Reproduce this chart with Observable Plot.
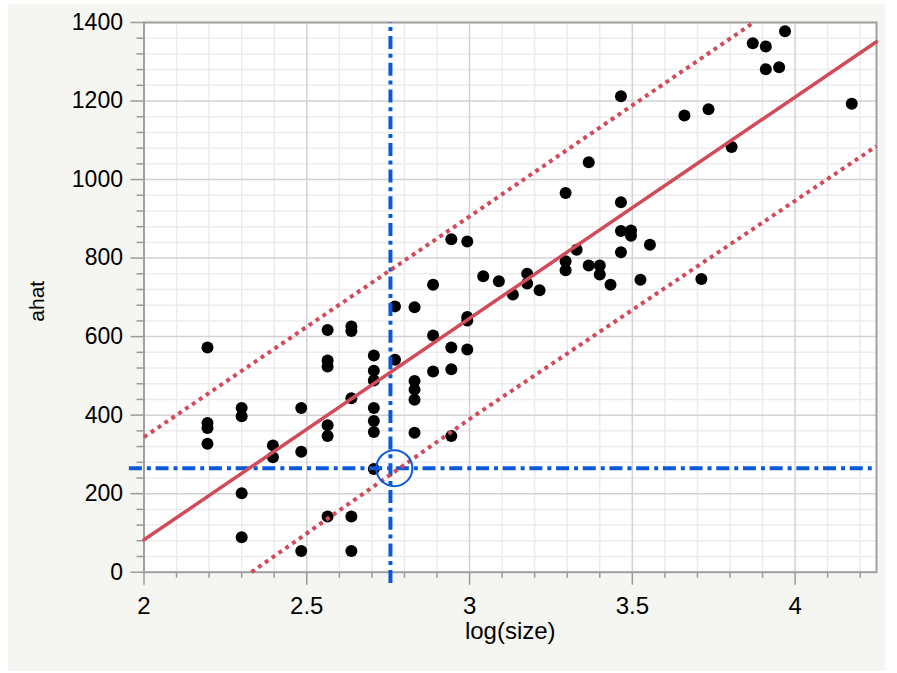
<!DOCTYPE html>
<html>
<head>
<meta charset="utf-8">
<script src="https://cdn.jsdelivr.net/npm/d3@7"></script>
<script src="https://cdn.jsdelivr.net/npm/@observablehq/plot@0.6"></script>
<style>
  body { margin: 0; background: #ffffff; }
  #panel { position: absolute; left: 8px; top: 4px; width: 877px; height: 667px; background: #f5f5f1; }
  #chart { position: absolute; left: 0; top: 0; }
</style>
</head>
<body>
<div id="panel"></div>
<div id="chart"></div>
<script>
// Observed points
const logSize = [
  2.195, 2.195, 2.195, 2.195,
  2.30, 2.30, 2.30, 2.30,
  2.396, 2.396,
  2.483, 2.483, 2.483,
  2.564, 2.564, 2.564, 2.564, 2.564, 2.564,
  2.637, 2.637, 2.637, 2.637, 2.637,
  2.706, 2.706, 2.706, 2.706, 2.706, 2.706, 2.706,
  2.771, 2.771,
  2.831, 2.831, 2.831, 2.831, 2.831,
  2.888, 2.888, 2.888,
  2.944, 2.944, 2.944, 2.944,
  2.993, 2.993, 2.993, 2.993,
  3.042, 3.09, 3.133, 3.177, 3.177, 3.215,
  3.295, 3.295, 3.295, 3.329, 3.366, 3.366, 3.40, 3.40, 3.433,
  3.465, 3.465, 3.465, 3.465, 3.496, 3.496, 3.525, 3.554,
  3.66, 3.712, 3.734, 3.805, 3.87, 3.91, 3.91, 3.951, 3.969, 4.174
];
const ahat = [
  572, 380, 367, 327,
  418, 397, 201, 89,
  323, 293,
  418, 307, 54,
  617, 539, 524, 374, 347, 142,
  626, 614, 443, 142, 54,
  552, 513, 488, 418, 385, 357, 263,
  677, 541,
  675, 487, 465, 439, 355,
  732, 603, 511,
  848, 572, 517, 347,
  842, 650, 641, 567,
  754, 741, 707, 760, 735, 718,
  966, 792, 769, 821, 1044, 781, 781, 758, 732,
  1212, 942, 869, 815, 870, 857, 745, 834,
  1163, 747, 1179, 1083, 1347, 1339, 1281, 1286, 1378, 1193
];

// Fitted line and prediction band
const fitX = [2.0, 4.25];
const fitY = [82.5, 1351];
const upperX = [2.0, 3.0, 3.873];
const upperY = [344, 906, 1400];
const lowerX = [2.33, 3.0, 4.25];
const lowerY = [0, 390, 1085];

// Decision lines
const crossX = [2.757];
const crossYRange = [-29, 1400];
const crossY = [265];
const crossXRange = [1.955, 4.238];
const markerX = [2.769];
const markerY = [265];

// Ticks and titles
const xTicks = [2, 2.5, 3, 3.5, 4];
const yTicks = [0, 200, 400, 600, 800, 1000, 1200, 1400];
const xMinor = d3.range(2.1, 4.25, 0.1).map(v => +v.toFixed(1)).filter(v => !xTicks.includes(v));
const yMinor = d3.range(40, 1400, 40).filter(v => !yTicks.includes(v));
const xTitle = ["log(size)"];
const yTitle = ["ahat"];

const points = logSize.map((x, i) => ({x, y: ahat[i]}));
const fit = fitX.map((x, i) => ({x, y: fitY[i]}));
const upper = upperX.map((x, i) => ({x, y: upperY[i]}));
const lower = lowerX.map((x, i) => ({x, y: lowerY[i]}));

const red = "#d24b5a";
const blue = "#0a5ad8";
const axisGray = "#9a9a9a";

const chart = Plot.plot({
  width: 897,
  height: 673,
  marginLeft: 143.5,
  marginRight: 21,
  marginTop: 22,
  marginBottom: 101.3,
  style: {background: "transparent", fontFamily: "'Liberation Sans', Arial, sans-serif", color: "#000"},
  x: {domain: [2, 4.25]},
  y: {domain: [0, 1400]},
  marks: [
    Plot.frame({fill: "white", stroke: null}),
    Plot.gridX(xMinor, {stroke: "#ececec", strokeOpacity: 1, strokeWidth: 1.5}),
    Plot.gridY(yMinor, {stroke: "#ececec", strokeOpacity: 1, strokeWidth: 1.5}),
    Plot.gridX(xTicks, {stroke: "#d2d2d2", strokeOpacity: 1, strokeWidth: 1.5}),
    Plot.gridY(yTicks, {stroke: "#d2d2d2", strokeOpacity: 1, strokeWidth: 1.5}),
    Plot.axisX(xMinor, {tickSize: 6, text: null, stroke: axisGray, strokeWidth: 1.5, label: null}),
    Plot.axisY(yMinor, {tickSize: 7, text: null, stroke: axisGray, strokeWidth: 1.5, label: null}),
    Plot.axisX(xTicks, {tickSize: 13, tickPadding: 12, fontSize: 24, stroke: axisGray, strokeWidth: 1.5, label: null, tickFormat: d => String(d), fill: "#000"}),
    Plot.axisY(yTicks, {tickSize: 13, tickPadding: 8, fontSize: 23, stroke: axisGray, strokeWidth: 1.5, label: null, tickFormat: d => String(d), fill: "#000"}),
    Plot.frame({stroke: "#a0a0a0", strokeWidth: 2}),
    Plot.dot(points, {x: "x", y: "y", r: 6, fill: "#000", stroke: null}),
    Plot.ruleX(crossX, {y1: crossYRange[0], y2: crossYRange[1], stroke: blue, strokeWidth: 4, strokeDasharray: "13,5,4,4.7"}),
    Plot.ruleY(crossY, {x1: crossXRange[0], x2: crossXRange[1], stroke: blue, strokeWidth: 4, strokeDasharray: "13,5,4,4.7"}),
    Plot.line(upper, {x: "x", y: "y", stroke: red, strokeWidth: 4, strokeDasharray: "4,4.3", strokeLinecap: "butt"}),
    Plot.line(lower, {x: "x", y: "y", stroke: red, strokeWidth: 4, strokeDasharray: "4,4.3", strokeLinecap: "butt"}),
    Plot.line(fit, {x: "x", y: "y", stroke: red, strokeWidth: 3.5}),
    Plot.dot(markerX.map((x, i) => ({x, y: markerY[i]})), {x: "x", y: "y", r: 18, stroke: blue, strokeWidth: 2, fill: "none"}),
    Plot.text(xTitle, {frameAnchor: "bottom", dy: 67, fontSize: 24, fill: "#000"}),
    Plot.text(yTitle, {x: () => 2, y: () => 690, dx: -106.5, rotate: -90, fontSize: 21, fill: "#000"})
  ]
});
document.getElementById("chart").appendChild(chart);
</script>
</body>
</html>
